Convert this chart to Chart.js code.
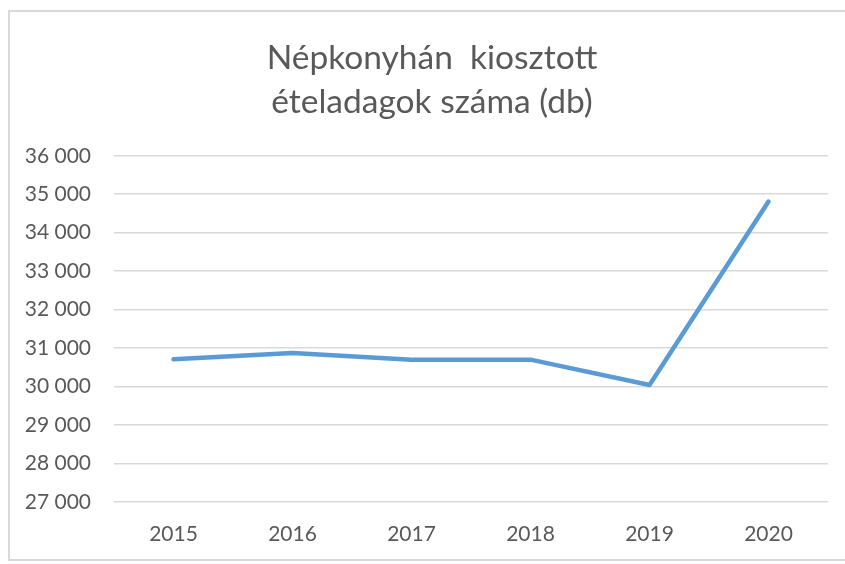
<!DOCTYPE html>
<html>
<head>
<meta charset="utf-8">
<script src="https://cdn.jsdelivr.net/npm/chart.js@4/dist/chart.umd.min.js"></script>
<style>
  body { margin: 0; background: #fff; }
  #wrap { position: relative; width: 845px; height: 564px; }
  #frame { position: absolute; left: 8px; top: 10px; width: 845px; height: 551px;
           border-left: 2px solid #d9d9d9; border-top: 2px solid #d9d9d9; border-bottom: 2px solid #d9d9d9; box-sizing: border-box; }
  canvas { position: absolute; left: 0; top: 0; }
</style>
</head>
<body>
<div id="wrap">
  <div id="frame"></div>
  <canvas id="grafica" width="845" height="564"></canvas>
</div>
<script>
// adatok
const evek = ['2015', '2016', '2017', '2018', '2019', '2020'];
const adagok = [30710, 30870, 30700, 30700, 30040, 34810];
const cim = ['Népkonyhán  kiosztott', 'ételadagok száma (db)'];
const yMin = 27000, yMax = 36000, yLepes = 1000;

const szurke = '#595959';

// a bal oldali padding miatt levágott tengelyfeliratok ne vágódjanak le
const tengelyBal = {
    id: 'tengelyBal',
    afterLayout: function (chart) { chart.scales.y.left = 0; }
};

new Chart(document.getElementById('grafica'), {
    type: 'line',
    data: {
        labels: evek,
        datasets: [{
            data: adagok,
            borderColor: '#5b9bd5',
            borderWidth: 4.5,
            pointRadius: 0,
            borderCapStyle: 'round',
            borderJoinStyle: 'round',
            tension: 0
        }]
    },
    options: {
        responsive: false,
        animation: false,
        layout: { padding: { top: 12, right: 17, bottom: 0, left: 36 } },
        plugins: {
            legend: { display: false },
            tooltip: { enabled: false },
            title: {
                display: true,
                text: cim,
                color: szurke,
                font: { family: 'Lato', size: 33.5, weight: 'normal', lineHeight: 1.31 },
                padding: { top: 24, bottom: 32 }
            }
        },
        scales: {
            x: {
                offset: true,
                afterFit: function (scale) { scale.height = 62; },
                grid: { display: false, drawTicks: false },
                border: { display: false },
                ticks: { color: szurke, font: { family: 'Lato', size: 21 }, padding: 20 }
            },
            y: {
                min: yMin,
                max: yMax,
                afterFit: function (scale) { scale.width = 78; },
                border: { display: false },
                grid: { color: '#d9d9d9', lineWidth: 1.5, drawTicks: false },
                ticks: {
                    stepSize: yLepes,
                    color: szurke,
                    font: { family: 'Lato', size: 21 },
                    padding: 23,
                    callback: function (v) { return String(v).replace(/\B(?=(\d{3})+(?!\d))/g, ' '); }
                }
            }
        }
    },
    plugins: [tengelyBal]
});
</script>
</body>
</html>
